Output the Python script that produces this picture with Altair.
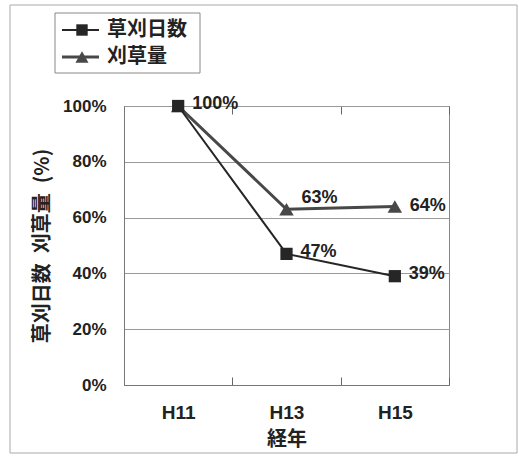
import altair as alt
import pandas as pd

years = ["H11", "H13", "H15"]
series_names = ["草刈日数", "刈草量"]
days_vals = [1.00, 0.47, 0.39]
cut_vals = [1.00, 0.63, 0.64]
days_labels = ["100%", "47%", "39%"]
cut_labels = ["100%", "63%", "64%"]
y_ticks = [0, 0.2, 0.4, 0.6, 0.8, 1.0]

df = pd.DataFrame({
    "year": years * 2,
    "series": [series_names[0]] * 3 + [series_names[1]] * 3,
    "value": days_vals + cut_vals,
    "label": days_labels + cut_labels,
})
leg = pd.DataFrame({"series": series_names})
one = pd.DataFrame({"a": [0]})

NUMF = "Liberation Sans"
CJKF = "Noto Sans CJK JP"
C_DAYS = "#262626"
C_CUT = "#484848"

x = alt.X(
    "year:N", sort=years, bandPosition=0.5,
    scale=alt.Scale(type="band", domain=years, paddingInner=0, paddingOuter=0),
    axis=alt.Axis(
        title="経年", tickBand="extent", ticks=False, grid=True,
        gridDash=[8, 263, 8, 1000], gridColor="#666", gridWidth=1,
        labelAngle=0, labelFont=NUMF, labelFontSize=19, labelFontWeight="bold",
        labelColor="#222", labelPadding=18, domainColor="#777",
        titleFont=CJKF, titleFontSize=20, titleFontWeight="bold",
        titleColor="#222", titlePadding=7,
    ),
)
y = alt.Y(
    "value:Q", scale=alt.Scale(domain=[0, 1]),
    axis=alt.Axis(
        title="草刈日数\u2002刈草量\u2002(%)", values=y_ticks, format="%", ticks=False,
        gridColor="#999", domainColor="#777",
        labelFont=NUMF, labelFontSize=17, labelFontWeight="bold",
        labelColor="#222", labelPadding=18,
        titleFont=CJKF, titleFontSize=20, titleFontWeight="bold",
        titleColor="#222", titlePadding=10,
    ),
)

base = alt.Chart(df)
days = base.transform_filter(alt.datum.series == series_names[0])
cut = base.transform_filter(alt.datum.series == series_names[1])

cut_line = cut.mark_line(color=C_CUT, strokeWidth=3).encode(x=x, y=y)
cut_pts = cut.mark_point(shape="triangle-up", filled=True, size=210,
                         color=C_CUT, opacity=1).encode(x=x, y=y)
days_line = days.mark_line(color=C_DAYS, strokeWidth=2).encode(x=x, y=y)
days_pts = days.mark_point(shape="square", filled=True, size=150,
                           color=C_DAYS, opacity=1).encode(x=x, y=y)

tstyle = dict(font=NUMF, fontSize=18, fontWeight="bold", color="#222",
              align="left", baseline="middle")
days_txt = days.mark_text(dx=14, dy=-2, **tstyle).encode(x=x, y=y, text="label:N")
cut_txt13 = cut.transform_filter(alt.datum.year == years[1]).mark_text(
    dx=15, dy=-11, **tstyle).encode(x=x, y=y, text="label:N")
cut_txt15 = cut.transform_filter(alt.datum.year == years[2]).mark_text(
    dx=15, dy=0, **tstyle).encode(x=x, y=y, text="label:N")

# outer frame and legend (decoration)
frame = alt.Chart(one).mark_rect(fillOpacity=0, stroke="#aaa", strokeWidth=1).encode(
    x=alt.value(-114), x2=alt.value(393), y=alt.value(-101), y2=alt.value(347))
legbox = alt.Chart(one).mark_rect(fillOpacity=0, stroke="#888", strokeWidth=1).encode(
    x=alt.value(-69), x2=alt.value(76), y=alt.value(-93), y2=alt.value(-33))

legL = alt.Chart(leg)
l0 = legL.transform_filter(alt.datum.series == series_names[0])
l1 = legL.transform_filter(alt.datum.series == series_names[1])
leg_layers = [
    l0.mark_rule(color=C_DAYS, strokeWidth=2).encode(
        x=alt.value(-62), x2=alt.value(-25), y=alt.value(-76)),
    l0.mark_point(shape="square", filled=True, size=130, color=C_DAYS, opacity=1).encode(
        x=alt.value(-42), y=alt.value(-76)),
    l0.mark_text(font=CJKF, fontSize=20, fontWeight="bold", color="#222",
                 align="left", baseline="middle").encode(
        x=alt.value(-17), y=alt.value(-76), text="series:N"),
    l1.mark_rule(color=C_CUT, strokeWidth=3).encode(
        x=alt.value(-62), x2=alt.value(-25), y=alt.value(-49)),
    l1.mark_point(shape="triangle-up", filled=True, size=170, color=C_CUT, opacity=1).encode(
        x=alt.value(-42), y=alt.value(-49)),
    l1.mark_text(font=CJKF, fontSize=20, fontWeight="bold", color="#222",
                 align="left", baseline="middle").encode(
        x=alt.value(-17), y=alt.value(-49), text="series:N"),
]

chart = alt.layer(
    cut_line, cut_pts, days_line, days_pts, days_txt, cut_txt13, cut_txt15,
    frame, legbox, *leg_layers
).properties(
    width=325, height=279,
    autosize=alt.AutoSizeParams(type="none"),
    padding={"left": 124, "top": 106, "right": 70, "bottom": 75},
    background="white",
).configure_view(stroke="#888", strokeWidth=1)

chart.save("out.html", embed_options={"renderer": "svg", "actions": False})
